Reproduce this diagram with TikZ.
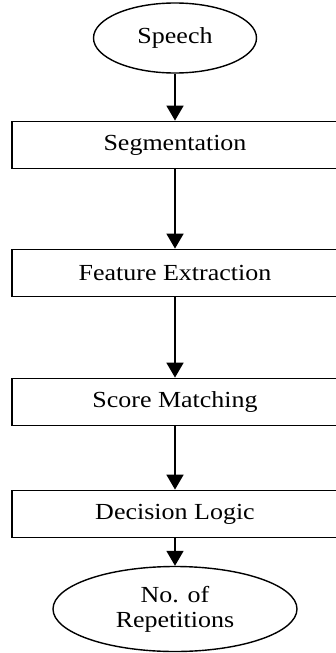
\documentclass[tikz,border=0pt]{standalone}
\usepackage{fontspec}
\setmainfont{Liberation Serif}
\usetikzlibrary{shapes.geometric,arrows.meta}
\newcommand{\widetext}[1]{\scalebox{1.13}[1]{#1}}
\begin{document}
\begin{tikzpicture}[x=1pt,y=-1pt,
  every node/.style={font=\fontsize{23}{27}\selectfont},
  procbox/.style={draw, line width=1.8pt, rectangle, minimum width=326pt, minimum height=47pt, inner sep=0pt},
  termnode/.style={draw, line width=1.4pt, ellipse, inner sep=0pt},
  flow/.style={line width=1.8pt, -{Triangle[width=17pt,length=15pt]}}]
\clip (0,0) rectangle (336,653);
\fill[white] (0,0) rectangle (336,653);
\node[termnode, minimum width=163pt, minimum height=70pt] (speech) at (175,38) {\widetext{Speech}};
\node[procbox] (seg) at (175,145) {\widetext{Segmentation}};
\node[procbox] (feat) at (175,273) {\widetext{Feature Extraction}};
\node[procbox] (score) at (175,402) {\widetext{Score Matching}};
\node[procbox] (dec) at (175,514) {\widetext{Decision Logic}};
\node[termnode, minimum width=244pt, minimum height=85pt, align=center] (rep) at (175,609) {\widetext{No. of}\\[-2pt]\widetext{Repetitions}};
\draw[flow] (speech) -- (seg);
\draw[flow] (seg) -- (feat);
\draw[flow] (feat) -- (score);
\draw[flow] (score) -- (dec);
\draw[flow] (dec) -- (rep);
\end{tikzpicture}
\end{document}
